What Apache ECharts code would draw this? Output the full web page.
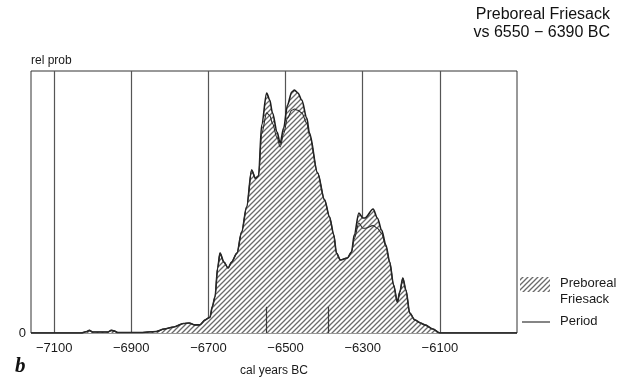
<!DOCTYPE html>
<html><head><meta charset="utf-8">
<script src="https://cdn.jsdelivr.net/npm/echarts@6/dist/echarts.min.js"></script>
<style>html,body{margin:0;padding:0;background:#fff}#c{width:622px;height:377px}</style>
</head><body><div id="c"></div>
<script>
// ---- data ----
const years = [-7160,-7030,-7015,-7009,-7000,-6960,-6952,-6945,-6935,-6880,-6835,-6815,-6790,-6765,-6750,-6735,-6723,-6708,-6700,-6696,-6690,-6683,-6676,-6670,-6660,-6649,-6640,-6626,-6614,-6601,-6588,-6578,-6570,-6562,-6549,-6541,-6534,-6522,-6514,-6505,-6495,-6484,-6477,-6468,-6458,-6445,-6438,-6417,-6399,-6386,-6375,-6368,-6358,-6340,-6329,-6322,-6310,-6300,-6294,-6273,-6262,-6251,-6240,-6230,-6220,-6210,-6204,-6196,-6188,-6178,-6165,-6150,-6139,-6118,-6100,-5900];
const friesackOuter = [0,0,0.006,0.01,0.004,0.004,0.01,0.008,0.002,0.002,0.006,0.015,0.023,0.036,0.038,0.031,0.031,0.05,0.057,0.06,0.1,0.137,0.25,0.305,0.271,0.248,0.271,0.305,0.385,0.481,0.622,0.59,0.6,0.794,0.916,0.889,0.84,0.767,0.725,0.782,0.87,0.92,0.927,0.916,0.889,0.82,0.763,0.611,0.508,0.443,0.374,0.305,0.279,0.286,0.309,0.374,0.458,0.439,0.439,0.473,0.439,0.393,0.336,0.271,0.183,0.118,0.156,0.21,0.164,0.076,0.05,0.038,0.031,0.015,0,0];
const friesackInner = [0,0,0.006,0.01,0.004,0.004,0.01,0.008,0.002,0.002,0.006,0.015,0.023,0.036,0.038,0.031,0.031,0.05,0.057,0.06,0.1,0.137,0.25,0.305,0.271,0.248,0.271,0.305,0.385,0.481,0.622,0.59,0.6,0.76,0.84,0.83,0.8,0.745,0.71,0.76,0.82,0.85,0.855,0.85,0.84,0.8,0.755,0.611,0.508,0.443,0.374,0.305,0.279,0.286,0.309,0.36,0.42,0.4,0.4,0.41,0.4,0.38,0.33,0.271,0.183,0.118,0.156,0.21,0.164,0.076,0.05,0.038,0.031,0.015,0,0];
const xTicks = [-7100,-6900,-6700,-6500,-6300,-6100];
const periodBounds = [-6550,-6390];
const periodMarkHeight = 0.1;
const titleLines = ['Preboreal Friesack', 'vs 6550 \u2212 6390 BC'];
const legendLabels = ['Preboreal', 'Friesack', 'Period'];

// ---- hatch pattern ----
function hatch(size, col, lw){
  const c = document.createElement('canvas');
  c.width = size; c.height = size;
  const g = c.getContext('2d');
  g.fillStyle = '#fff'; g.fillRect(0,0,size,size);
  g.strokeStyle = col; g.lineWidth = lw;
  g.beginPath();
  g.moveTo(0,size); g.lineTo(size,0);
  g.moveTo(-1,1); g.lineTo(1,-1);
  g.moveTo(size-1,size+1); g.lineTo(size+1,size-1);
  g.stroke();
  return c;
}
const pat = hatch(5, '#6a6a6a', 1.3);
const FONT = '"Liberation Sans", Arial, sans-serif';

const chart = echarts.init(document.getElementById('c'), null, {renderer:'canvas'});
chart.setOption({
  animation: false,
  backgroundColor: '#fff',
  grid: {left: 31, top: 71, width: 486, height: 262, show: true, borderColor: '#333', borderWidth: 1,
    backgroundColor: 'transparent', containLabel: false, outerBoundsMode: 'none'},
  xAxis: {
    type: 'value', min: -7160, max: -5900,
    axisLine: {show: false}, axisTick: {show: false}, splitLine: {show: false},
    axisLabel: {customValues: xTicks, margin: 9, fontSize: 13, color: '#1a1a1a', fontFamily: FONT,
      formatter: v => String(v).replace('-', '\u2212')},
    name: 'cal years BC', nameLocation: 'middle', nameGap: 32,
    nameTextStyle: {fontSize: 12, color: '#1a1a1a', fontFamily: FONT}
  },
  yAxis: {
    type: 'value', min: 0, max: 1,
    axisLine: {show: false}, axisTick: {show: false}, splitLine: {show: false},
    axisLabel: {customValues: [0], margin: 5, fontSize: 13, color: '#1a1a1a', fontFamily: FONT},
    name: 'rel prob', nameLocation: 'end', nameGap: 4,
    nameTextStyle: {fontSize: 12, color: '#1a1a1a', fontFamily: FONT, align: 'left'}
  },
  series: [
    {
      name: 'gridlines', type: 'line', data: [[-7160, 0]], showSymbol: false, silent: true,
      lineStyle: {width: 0}, z: 1,
      markLine: {silent: true, symbol: 'none', z: 1, animation: false,
        label: {show: false}, lineStyle: {color: '#555', width: 1.2, type: 'solid'},
        data: xTicks.map(v => ({xAxis: v}))}
    },
    {
      name: 'Preboreal Friesack', type: 'line', showSymbol: false, smooth: 0.3, smoothMonotone: 'x',
      data: years.map((y,i) => [y, friesackOuter[i]]),
      lineStyle: {color: '#1e1e1e', width: 1.6},
      areaStyle: {color: {image: pat, repeat: 'repeat'}, opacity: 1},
      z: 3,
      markLine: {silent: true, symbol: 'none', z: 6, animation: false, label: {show: false},
        lineStyle: {color: '#3a3a3a', width: 1.2, type: 'solid'},
        data: periodBounds.map(v => [{coord: [v, 0]}, {coord: [v, periodMarkHeight]}])}
    },
    {
      name: 'inner', type: 'line', showSymbol: false, smooth: 0.3, smoothMonotone: 'x',
      data: years.map((y,i) => [y, friesackInner[i]]),
      lineStyle: {color: '#2a2a2a', width: 1.1}, z: 4
    }
  ],
  graphic: [
    {type: 'text', right: 12, top: 7, style: {text: titleLines[0], font: '16px ' + FONT, fill: '#111', textAlign: 'right'}},
    {type: 'text', right: 12, top: 25, style: {text: titleLines[1], font: '16px ' + FONT, fill: '#111', textAlign: 'right'}},
    {type: 'text', left: 15, top: 356, style: {text: 'b', font: 'bold italic 21px "Liberation Serif", "DejaVu Serif", serif', fill: '#111'}},
    {type: 'rect', shape: {x: 520, y: 277, width: 30, height: 15}, style: {fill: {image: pat, repeat: 'repeat'}, stroke: null}},
    {type: 'text', left: 560, top: 277, style: {text: legendLabels[0], font: '13px ' + FONT, fill: '#1a1a1a'}},
    {type: 'text', left: 560, top: 293, style: {text: legendLabels[1], font: '13px ' + FONT, fill: '#1a1a1a'}},
    {type: 'line', shape: {x1: 522, y1: 322, x2: 550, y2: 322}, style: {stroke: '#222', lineWidth: 1.1}},
    {type: 'text', left: 560, top: 315, style: {text: legendLabels[2], font: '13px ' + FONT, fill: '#1a1a1a'}}
  ]
});
</script></body></html>
